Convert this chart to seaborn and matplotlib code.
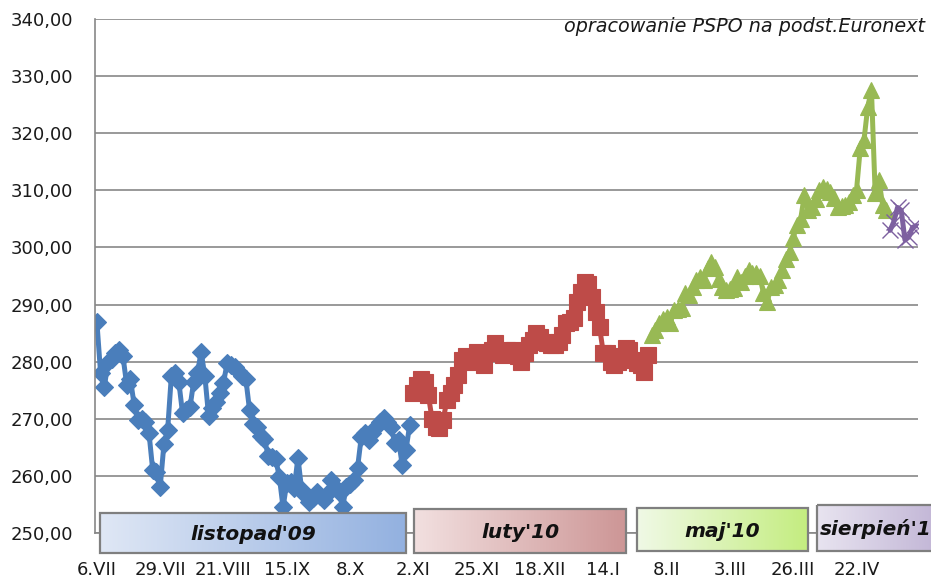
import numpy as np
import pandas as pd
import matplotlib
matplotlib.use("Agg")
import matplotlib.pyplot as plt
import seaborn as sns
from matplotlib.colors import LinearSegmentedColormap
from matplotlib.patches import Rectangle

# ── Data ─────────────────────────────────────────────────
n_days = 221
tick_labels = ["6.VII", "29.VII", "21.VIII", "15.IX", "8.X", "2.XI", "25.XI",
               "18.XII", "14.I", "8.II", "3.III", "26.III", "22.IV"]
tick_step = 17

nov09 = [287.0, 278.0, 275.5, 280.0, 280.5, 281.5, 282.0, 281.0, 276.0, 277.0,
         272.5, 269.8, 270.0, 269.5, 267.5, 261.0, 260.7, 258.0, 265.5, 268.0,
         277.5, 278.0, 276.5, 271.0, 271.5, 272.0, 276.5, 278.0, 281.7, 277.5,
         270.5, 271.9, 273.0, 274.5, 276.3, 279.8, 279.5, 279.0, 278.3, 277.5,
         277.0, 271.5, 269.0, 268.5, 267.0, 266.5, 263.5, 263.3, 263.0, 259.8,
         254.5, 258.8, 259.0, 257.9, 263.2, 257.5, 256.7, 255.5, 256.1, 257.2,
         256.5, 255.8, 257.0, 259.3, 258.0, 257.2, 254.6, 258.1, 258.5, 259.3,
         261.4, 266.8, 267.5, 266.3, 267.5, 268.6, 269.5, 270.1, 269.5, 268.6,
         265.8, 266.3, 261.9, 264.5, 268.9]
feb10 = [274.5, 276.0, 277.0, 276.5, 274.2, 270.0, 268.5, 268.4, 269.8, 273.3,
         274.5, 276.0, 277.7, 280.3, 281.0, 280.5, 280.0, 281.7, 280.5, 279.4,
         281.5, 282.0, 283.3, 281.5, 281.2, 282.0, 281.5, 282.0, 281.0, 280.0,
         281.5, 283.0, 283.8, 285.0, 284.3, 283.5, 283.3, 283.0, 282.9, 283.5,
         284.7, 286.8, 287.0, 287.6, 290.4, 292.2, 294.0, 293.6, 291.3, 288.7,
         286.0, 281.5, 281.5, 280.0, 279.4, 280.0, 281.0, 282.4, 282.0, 280.3,
         279.8, 279.4, 278.2, 281.2]
may10 = [284.7, 285.5, 286.8, 287.5, 287.8, 286.8, 289.0, 289.2, 289.4, 292.0,
         291.7, 293.0, 294.3, 294.8, 294.3, 296.4, 297.5, 296.5, 294.5, 293.1,
         292.5, 292.7, 292.9, 294.8, 294.0, 295.0, 296.0, 295.5, 295.5, 295.0,
         292.0, 290.4, 293.1, 293.5, 294.3, 296.0, 298.0, 299.2, 301.7, 304.0,
         305.0, 309.2, 306.6, 307.1, 308.5, 310.1, 310.6, 310.3, 309.7, 308.7,
         307.1, 307.2, 307.4, 308.0, 309.2, 310.1, 317.4, 318.8, 324.6, 327.6,
         309.5, 311.8, 307.5, 306.6]
aug10 = [303.0, 304.5, 307.0, 306.5, 301.3, 301.8, 303.5, 303.8]

series_names = ["listopad'09", "luty'10", "maj'10", "sierpień'10"]
series_values = [nov09, feb10, may10, aug10]

# ── Styling ──────────────────────────────────────────────
colors = ["#4a7ebb", "#be4b48", "#98b954", "#7d60a0"]
markers = ["D", "s", "^", "x"]
msizes = [9.5, 12, 12, 11]
grad_colors = [("#dfe7f5", "#93b1e0"), ("#f2e0e0", "#cd9696"),
               ("#f0f9e6", "#c4ed80"), ("#e8e4f0", "#b0a0ca")]
box_px = [(100, 406, 513, 553), (414, 626, 509, 553),
          (637, 808, 508, 551), (817, 995, 505, 551)]
grid_c = "#878787"

sns.set_style("white")
plt.rcParams["font.family"] = ["DejaVu Sans"]

W, H = 931, 578
fig = plt.figure(figsize=(W / 100, H / 100), dpi=100)
ax = fig.add_axes([95 / W, 1 - 533 / H, 823 / W, 514 / H])

start = 0
for name, vals, c, m, ms in zip(series_names, series_values, colors, markers, msizes):
    df = pd.DataFrame({"day": np.arange(start, start + len(vals)), "price": vals})
    start += len(vals)
    sns.lineplot(data=df, x="day", y="price", ax=ax, color=c, lw=3.6,
                 marker=m, markersize=ms, markeredgecolor=c,
                 markeredgewidth=1.0 if m == "x" else 0.8, legend=False)

ax.set_xlim(-0.5, n_days - 0.5)
ax.set_ylim(250, 340)
ax.set_yticks(np.arange(250, 341, 10))
ax.set_yticklabels([f"{v:.2f}".replace(".", ",") for v in np.arange(250, 341, 10)])
ax.set_xticks(np.arange(len(tick_labels)) * tick_step)
ax.set_xticklabels(tick_labels)
ax.set_xlabel("")
ax.set_ylabel("")
ax.yaxis.grid(True, color=grid_c, lw=1.2)
ax.set_axisbelow(True)
ax.tick_params(axis="y", length=0, pad=16, labelsize=13, labelcolor="#1a1a1a")
ax.tick_params(axis="x", length=0, pad=20, labelsize=13, labelcolor="#1a1a1a")
for s in ["top", "right"]:
    ax.spines[s].set_visible(False)
for s in ["left", "bottom"]:
    ax.spines[s].set_color(grid_c)
    ax.spines[s].set_linewidth(1.2)

fig.text(925 / W, 1 - 27 / H, "opracowanie PSPO na podst.Euronext",
         ha="right", va="center", style="italic", fontsize=13.8, color="#1a1a1a")

# ── Gradient name boxes over the axis ─────────────────────
ov = fig.add_axes([0, 0, 1, 1], zorder=5)
ov.patch.set_alpha(0)
grad = np.linspace(0, 1, 256).reshape(1, -1)
for name, (c0, c1), (x0, x1, y0, y1) in zip(series_names, grad_colors, box_px):
    cmap = LinearSegmentedColormap.from_list(name, [c0, c1])
    ov.imshow(grad, extent=(x0, x1, y1, y0), cmap=cmap, aspect="auto", zorder=1)
    ov.add_patch(Rectangle((x0, y0), x1 - x0, y1 - y0, fill=False,
                           ec="#7f7f7f", lw=1.6, zorder=2))
    if x1 < W:
        ov.text((x0 + x1) / 2, (y0 + y1) / 2 + 2, name, ha="center", va="center",
                fontsize=14.5, fontweight="bold", style="italic", color="#111111", zorder=3)
    else:
        ov.text(x0 + 3, (y0 + y1) / 2 + 1, name, ha="left", va="center",
                fontsize=14.5, fontweight="bold", style="italic", color="#111111", zorder=3)
ov.set_xlim(0, W)
ov.set_ylim(H, 0)
ov.axis("off")

fig.savefig("out.png", dpi=100)
